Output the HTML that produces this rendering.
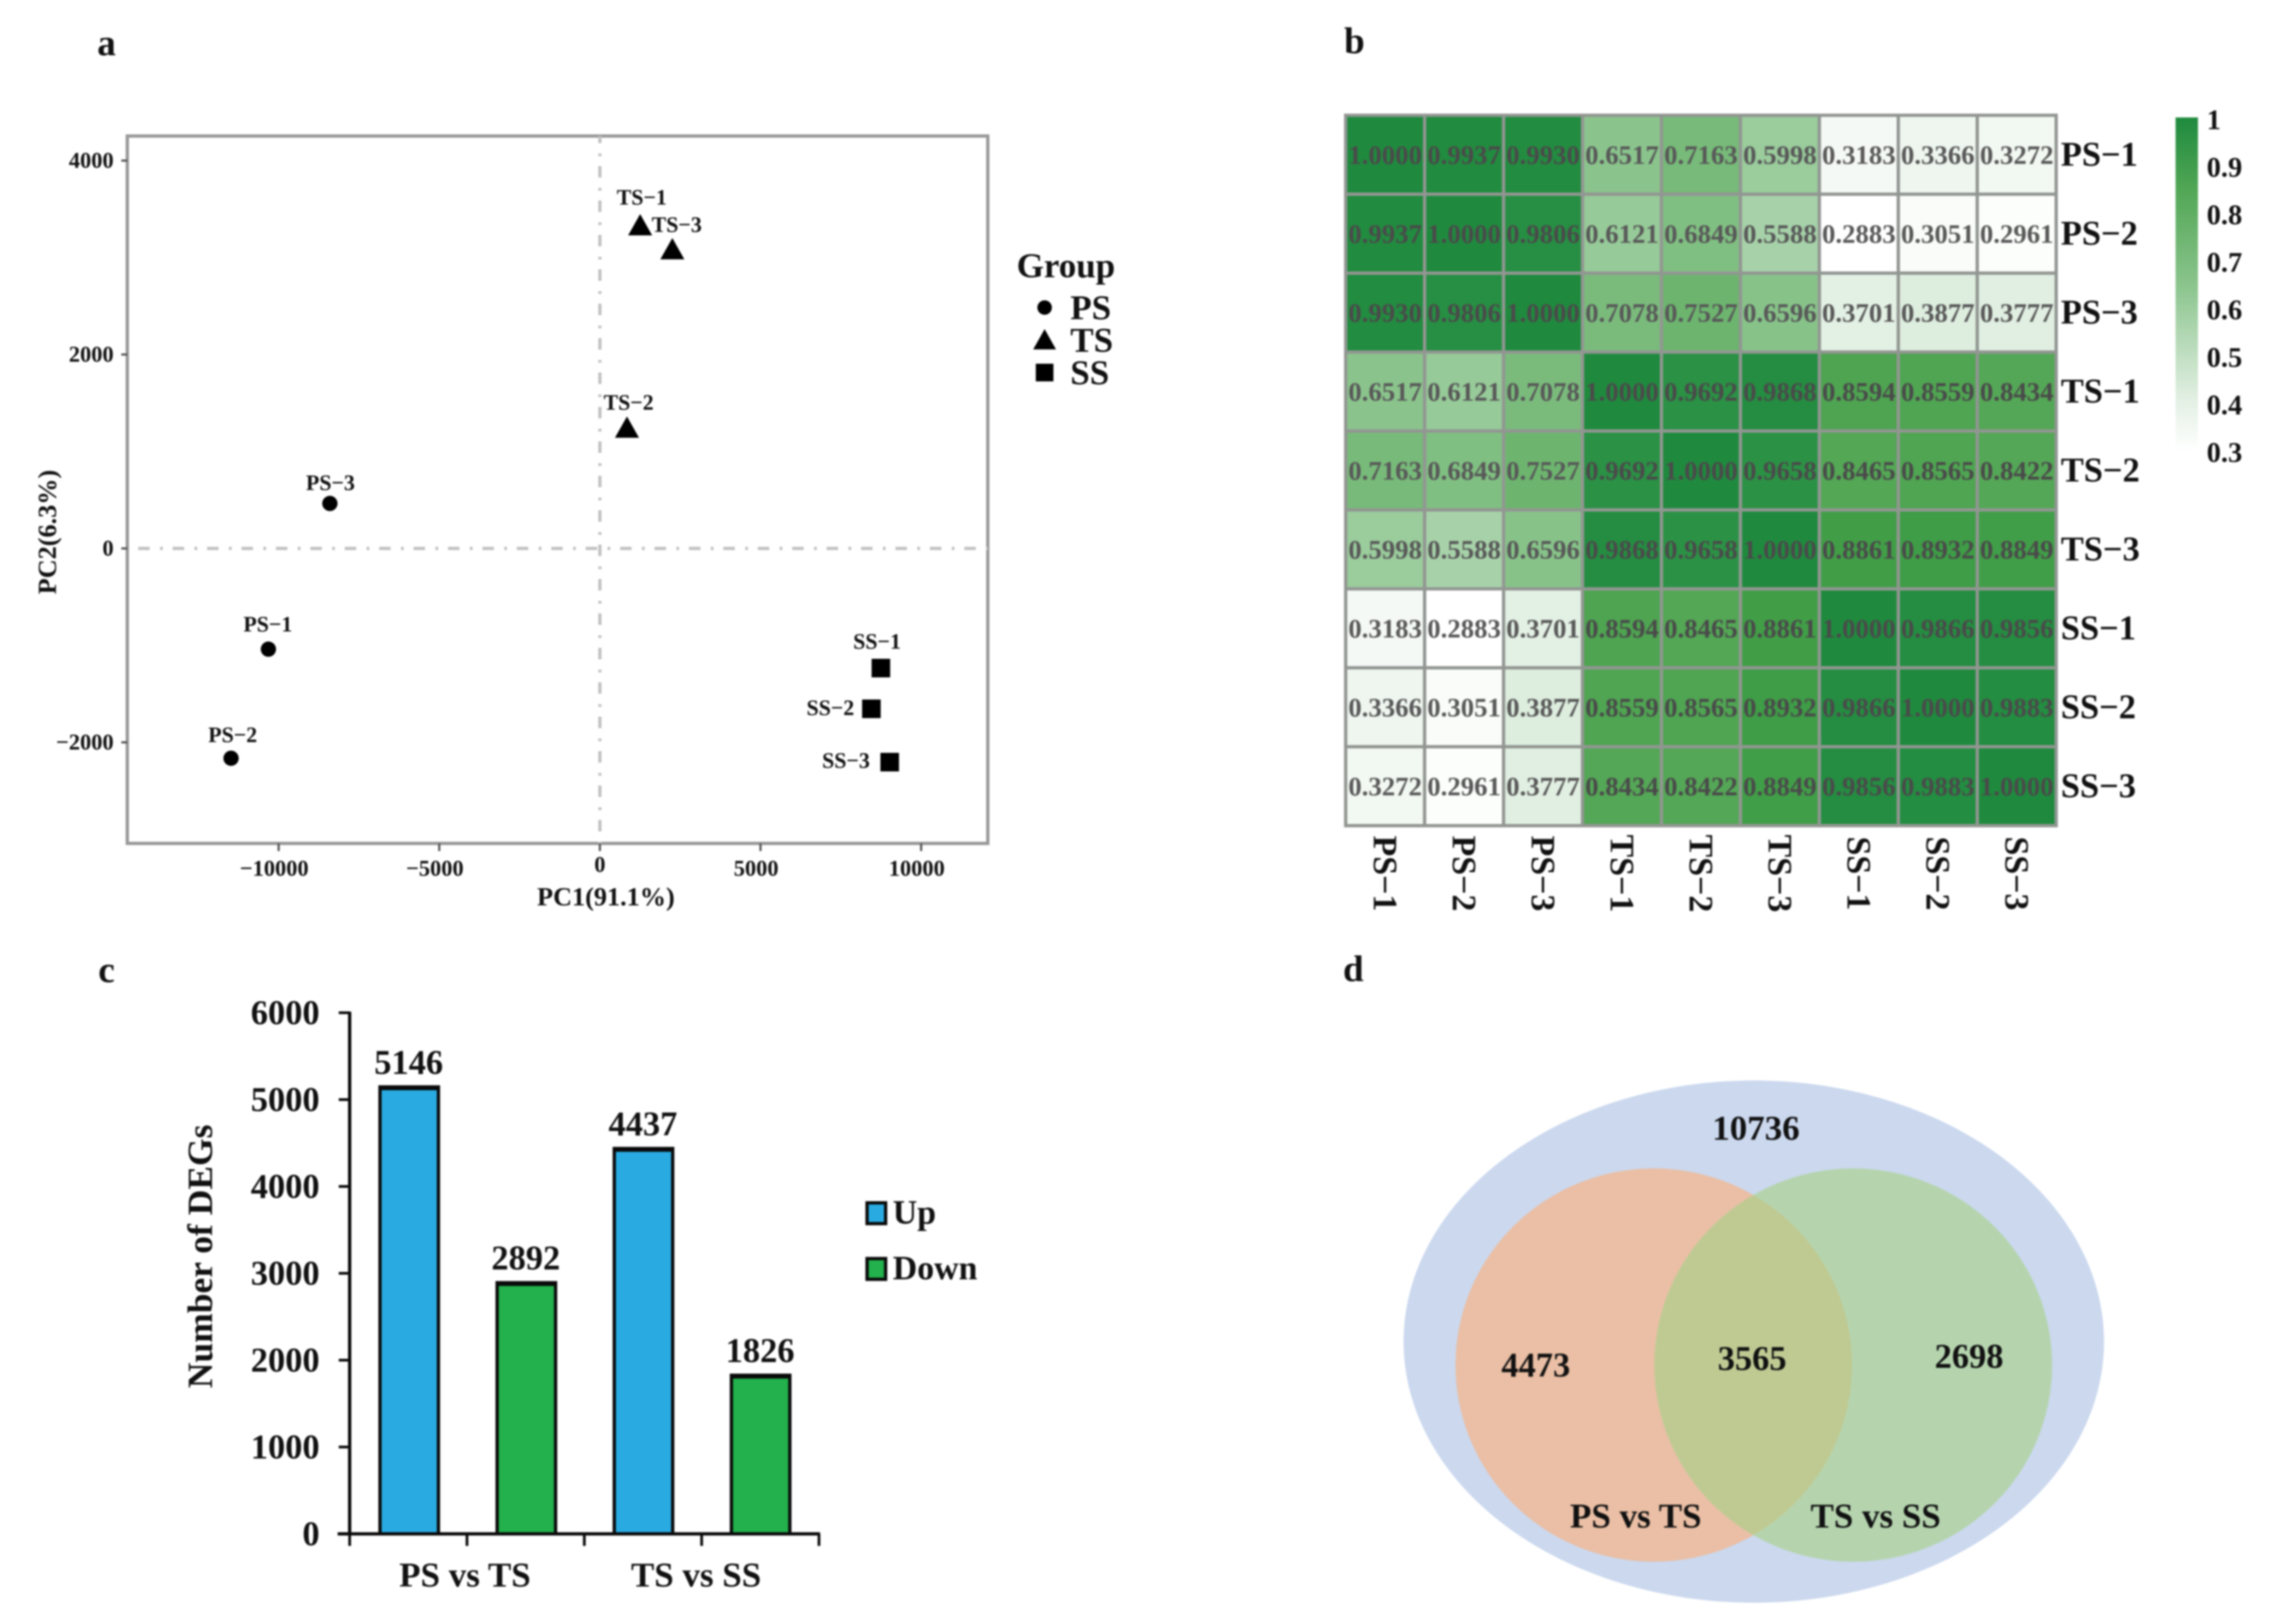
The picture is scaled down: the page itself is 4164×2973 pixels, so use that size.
<!DOCTYPE html>
<html lang="en">
<head>
<meta charset="utf-8">
<title>Transcriptome figure</title>
<style>
html,body{margin:0;padding:0;background:#fff;width:4164px;height:2973px;overflow:hidden}
svg{display:block}
text{font-family:"Liberation Serif",serif;font-weight:bold;fill:#111}
#art{filter:blur(1.7px)}
</style>
</head>
<body>
<svg id="root" xmlns="http://www.w3.org/2000/svg" width="4164" height="2973" viewBox="0 0 4164 2973">
<g id="art">
  <text x="195" y="78" font-size="68" text-anchor="middle" dominant-baseline="central">a</text>
  <text x="2479" y="74" font-size="68" text-anchor="middle" dominant-baseline="central">b</text>
  <text x="195" y="1775" font-size="68" text-anchor="middle" dominant-baseline="central">c</text>
  <text x="2477" y="1773" font-size="68" text-anchor="middle" dominant-baseline="central">d</text>
  <g id="panelA"></g>
  <g id="panelB"></g>
  <g id="panelC"></g>
  <g id="panelD"></g>
</g>
</svg>
<script>
/* ---------- panel a data ---------- */
var pcaNames = ["PS−1","PS−2","PS−3","TS−1","TS−2","TS−3","SS−1","SS−2","SS−3"];
var pcaGroups = ["PS","PS","PS","TS","TS","TS","SS","SS","SS"];
var pcaPC1 = [-10319,-11481,-8405,1253,843,2255,8747,8451,9021];
var pcaPC2 = [-1039,-2164,464,3330,1243,3083,-1234,-1654,-2204];
var pcaXTicks = [-10000,-5000,0,5000,10000];
var pcaYTicks = [4000,2000,0,-2000];
var pcaLegendGroups = ["PS","TS","SS"];

/* ---------- panel b data ---------- */
var heatLabels = ["PS−1","PS−2","PS−3","TS−1","TS−2","TS−3","SS−1","SS−2","SS−3"];
var heatRow1 = [1.0000,0.9937,0.9930,0.6517,0.7163,0.5998,0.3183,0.3366,0.3272];
var heatRow2 = [0.9937,1.0000,0.9806,0.6121,0.6849,0.5588,0.2883,0.3051,0.2961];
var heatRow3 = [0.9930,0.9806,1.0000,0.7078,0.7527,0.6596,0.3701,0.3877,0.3777];
var heatRow4 = [0.6517,0.6121,0.7078,1.0000,0.9692,0.9868,0.8594,0.8559,0.8434];
var heatRow5 = [0.7163,0.6849,0.7527,0.9692,1.0000,0.9658,0.8465,0.8565,0.8422];
var heatRow6 = [0.5998,0.5588,0.6596,0.9868,0.9658,1.0000,0.8861,0.8932,0.8849];
var heatRow7 = [0.3183,0.2883,0.3701,0.8594,0.8465,0.8861,1.0000,0.9866,0.9856];
var heatRow8 = [0.3366,0.3051,0.3877,0.8559,0.8565,0.8932,0.9866,1.0000,0.9883];
var heatRow9 = [0.3272,0.2961,0.3777,0.8434,0.8422,0.8849,0.9856,0.9883,1.0000];
var heatRows = [heatRow1,heatRow2,heatRow3,heatRow4,heatRow5,heatRow6,heatRow7,heatRow8,heatRow9];
var colorbarTicks = ["1","0.9","0.8","0.7","0.6","0.5","0.4","0.3"];

/* ---------- panel c data ---------- */
var barNames = ["PS vs TS Up","PS vs TS Down","TS vs SS Up","TS vs SS Down"];
var barValues = [5146,2892,4437,1826];
var barKinds = ["Up","Down","Up","Down"];
var barGroups = ["PS vs TS","TS vs SS"];
var barYTicks = [0,1000,2000,3000,4000,5000,6000];
var barLegend = ["Up","Down"];

/* ---------- panel d data ---------- */
var vennTotal = "10736";
var vennLeftOnly = "4473";
var vennShared = "3565";
var vennRightOnly = "2698";
var vennLeftName = "PS vs TS";
var vennRightName = "TS vs SS";

/* ---------- helpers ---------- */
var NS = "http://www.w3.org/2000/svg";
function mk(tag, attrs, parent){
  var e = document.createElementNS(NS, tag);
  for (var k in attrs) e.setAttribute(k, attrs[k]);
  parent.appendChild(e);
  return e;
}
function label(str, x, y, size, anchor, parent){
  var t = mk("text", {x:x, y:y, "font-size":size, "text-anchor":anchor || "middle", "dominant-baseline":"central"}, parent);
  t.textContent = str;
  return t;
}
function fmtTick(v){ return v < 0 ? "−" + Math.abs(v) : String(v); }
function slug(s){ return s.replace(/−/g,"-").replace(/\s+/g,"-").toLowerCase(); }

/* ---------- panel a ---------- */
(function(){
  var p = document.getElementById("panelA");
  var L = 233, R = 1808, T = 249, B = 1544;
  function xA(v){ return 1098 + v * 0.0588; }
  function yA(v){ return 1004 - v * 0.1775; }
  var box = mk("rect", {x:L, y:T, width:R-L, height:B-T, fill:"#fff", stroke:"#989898", "stroke-width":6}, p);
  
  
  var h = mk("line", {x1:L+20, x2:R, y1:yA(0), y2:yA(0), stroke:"#c2c2c2", "stroke-width":6, "stroke-dasharray":"21 19 5 18"}, p);
  
  
  var v = mk("line", {x1:xA(0), x2:xA(0), y1:T, y2:B, stroke:"#c2c2c2", "stroke-width":6, "stroke-dasharray":"21 19 5 18", "stroke-dashoffset":8}, p);
  
  

  pcaXTicks.forEach(function(t){
    var m = mk("line", {x1:xA(t), x2:xA(t), y1:B, y2:B+14, stroke:"#555", "stroke-width":4}, p);
    
    
    var s = label(fmtTick(t), xA(t) - (t === 0 ? 0 : 8), t === 0 ? 1582 : 1589, 41, "middle", p);
    
    
  });
  pcaYTicks.forEach(function(t){
    var m = mk("line", {x1:L-11, x2:L, y1:yA(t), y2:yA(t), stroke:"#555", "stroke-width":4}, p);
    
    
    var s = label(fmtTick(t), 208, yA(t) - 1, 41, "end", p);
    
    
  });
  var xt = label("PC1(91.1%)", 1109, 1642, 48, "middle", p);
  
  
  var yt = label("PC2(6.3%)", 87, 974, 48, "middle", p);
  yt.setAttribute("transform", "rotate(-90 87 974)");
  
  

  function marker(group, cx, cy, scale, parent){
    if (group === "PS") return mk("circle", {cx:cx, cy:cy, r:14*scale, fill:"#000"}, parent);
    if (group === "TS") return mk("polygon", {points:[cx,cy-21*scale, cx+22*scale,cy+18*scale, cx-22*scale,cy+18*scale].join(","), fill:"#000"}, parent);
    return mk("rect", {x:cx-17*scale, y:cy-17*scale, width:34*scale, height:34*scale, fill:"#000"}, parent);
  }
  var labelShiftX = {"PS−1":-1,"PS−2":3,"PS−3":1,"TS−1":3,"TS−2":3,"TS−3":8,"SS−1":-7,"SS−2":-75,"SS−3":-80};
  var labelShiftY = {"PS−1":-46,"PS−2":-43,"PS−3":-38,"TS−1":-52,"TS−2":-47,"TS−3":-46,"SS−1":-49,"SS−2":-2,"SS−3":-3};
  pcaNames.forEach(function(n,i){
    var cx = xA(pcaPC1[i]), cy = yA(pcaPC2[i]);
    var m = marker(pcaGroups[i], cx, cy, 1, p);
    
    
    var s = label(n, cx + labelShiftX[n], cy + labelShiftY[n], 40, "middle", p);
    
    
  });
  var gt = label("Group", 1951, 486, 64, "middle", p);
  
  
  pcaLegendGroups.forEach(function(g,i){
    var y = 563 + i * 59.5;
    var m = marker(g, 1912, y, 0.95, p);
    
    
    var s = label(g, 1959, y, 64, "start", p);
    
    
  });
})();

/* ---------- panel b ---------- */
(function(){
  var p = document.getElementById("panelB");
  var L = 2463, T = 211, C = 144.5;
  var stopV = [0.2883,0.37,0.65,0.85,0.89,0.97,1];
  var stopR = [255,227,138,82,63,42,31];
  var stopG = [255,240,196,166,157,145,138];
  var stopB = [255,228,140,84,70,69,62];
  function heatColor(v){
    var i = 0;
    while (i < stopV.length - 2 && v > stopV[i+1]) i++;
    var t = Math.max(0, Math.min(1, (v - stopV[i]) / (stopV[i+1] - stopV[i])));
    function c(a){ return Math.round(a[i] + (a[i+1] - a[i]) * t); }
    return "rgb(" + c(stopR) + "," + c(stopG) + "," + c(stopB) + ")";
  }
  function xB(i){ return L + i * C; }
  function yB(i){ return T + i * C; }
  heatRows.forEach(function(row,r){
    row.forEach(function(v,c){
      var cell = mk("rect", {x:xB(c), y:yB(r), width:C, height:C, fill:heatColor(v), stroke:"#929692", "stroke-width":6}, p);
      
      
    });
  });
  heatRows.forEach(function(row,r){
    row.forEach(function(v,c){
      var s = label(v.toFixed(4), xB(c) + C/2, yB(r) + C/2, 49, "middle", p);
      s.style.fill = v > 0.8 ? "#4a4a4a" : "#585858";
      
      
    });
  });
  heatLabels.forEach(function(n,i){
    var s = label(n, 3772, yB(i) + C/2 - 1, 63, "start", p);
    
    
    var x = xB(i) + C/2 - 1, y = 1599;
    var t = label(n, x, y, 62, "middle", p);
    t.setAttribute("transform", "rotate(90 " + x + " " + y + ")");
    
    
  });
  var defs = mk("defs", {}, p);
  var grad = mk("linearGradient", {id:"cbGrad", x1:0, y1:0, x2:0, y2:1}, defs);
  mk("stop", {offset:"0", "stop-color":"#1f8a3e"}, grad);
  mk("stop", {offset:"0.22", "stop-color":"#52a756"}, grad);
  mk("stop", {offset:"0.5", "stop-color":"#8ac48c"}, grad);
  mk("stop", {offset:"0.85", "stop-color":"#e3f0e4"}, grad);
  mk("stop", {offset:"1", "stop-color":"#ffffff"}, grad);
  var bar = mk("rect", {x:3982, y:215, width:41, height:610, fill:"url(#cbGrad)"}, p);
  
  
  colorbarTicks.forEach(function(t){
    var s = label(t, 4039, 220 + (1 - parseFloat(t)) * 870, 52, "start", p);
    
    
  });
})();

/* ---------- panel c ---------- */
(function(){
  var p = document.getElementById("panelC");
  var AX = 640, Y0 = 2808, Y6 = 1854, XEND = 1499;
  function yC(v){ return Y0 - (Y0 - Y6) * v / 6000; }
  function xC(i){ return 749 + i * 214.4; }
  var kindFill = {Up:"#29abe2", Down:"#22b14c"};
  barValues.forEach(function(v,i){
    var w = 107, x = xC(i) - w/2;
    var r = mk("rect", {x:x, y:yC(v), width:w, height:Y0 - yC(v), fill:kindFill[barKinds[i]], stroke:"#0a0a0a", "stroke-width":6}, p);
    
    
    var cap = mk("rect", {x:x-2, y:yC(v)-2, width:w+4, height:8, fill:"#0a0a0a"}, p);
    
    
    var s = label(String(v), xC(i) - 1, yC(v) - 45, 63, "middle", p);
    
    
  });
  var ya = mk("line", {x1:AX, x2:AX, y1:Y6-2, y2:Y0+2, stroke:"#0a0a0a", "stroke-width":6}, p);
  
  
  var xa = mk("line", {x1:AX-22, x2:XEND+2, y1:Y0, y2:Y0, stroke:"#0a0a0a", "stroke-width":6}, p);
  
  
  barYTicks.forEach(function(t){
    var m = mk("line", {x1:AX-20, x2:AX, y1:yC(t), y2:yC(t), stroke:"#0a0a0a", "stroke-width":5}, p);
    
    
    var s = label(String(t), 585, yC(t), 63, "end", p);
    
    
  });
  barValues.concat([0]).forEach(function(_,i){
    var x = AX + i * (XEND - AX) / barValues.length;
    var m = mk("line", {x1:x, x2:x, y1:Y0, y2:Y0+22, stroke:"#0a0a0a", "stroke-width":5}, p);
    
    
  });
  barGroups.forEach(function(g,i){
    var s = label(g, 851 + i * 423, 2883, 64, "middle", p);
    
    
  });
  var yt = label("Number of DEGs", 367, 2300, 65, "middle", p);
  yt.setAttribute("transform", "rotate(-90 367 2300)");
  
  
  barLegend.forEach(function(k,i){
    var y = 2220 + i * 102;
    var sw = mk("rect", {x:1587, y:y-18, width:34, height:38, fill:kindFill[k], stroke:"#0a0a0a", "stroke-width":6}, p);
    
    
    var s = label(k, 1634, y, 62, "start", p);
    
    
  });
})();

/* ---------- panel d ---------- */
(function(){
  var p = document.getElementById("panelD");
  var outer = mk("ellipse", {cx:3210, cy:2456, rx:641, ry:478, fill:"#cbd8ee"}, p);
  
  
  var left = mk("ellipse", {cx:3027, cy:2499, rx:363, ry:360, fill:"#eabfa5"}, p);
  
  
  var right = mk("ellipse", {cx:3392, cy:2499, rx:364, ry:360, fill:"#b5d4ae"}, p);
  
  
  var defs = mk("defs", {}, p);
  var clip = mk("clipPath", {id:"vennClip"}, defs);
  mk("ellipse", {cx:3027, cy:2499, rx:363, ry:360}, clip);
  var overlap = mk("ellipse", {cx:3392, cy:2499, rx:364, ry:360, fill:"#bfca93", "clip-path":"url(#vennClip)"}, p);
  
  

  var a = label(vennTotal, 3214, 2065, 64, "middle", p);
  
  
  var b = label(vennLeftOnly, 2811, 2499, 63, "middle", p);
  
  
  var c = label(vennShared, 3207, 2487, 63, "middle", p);
  
  
  var d = label(vennRightOnly, 3604, 2483, 63, "middle", p);
  
  
  var e = label(vennLeftName, 2994, 2775, 64, "middle", p);
  
  
  var f = label(vennRightName, 3433, 2775, 64, "middle", p);
  
  
})();
</script>
</body>
</html>
